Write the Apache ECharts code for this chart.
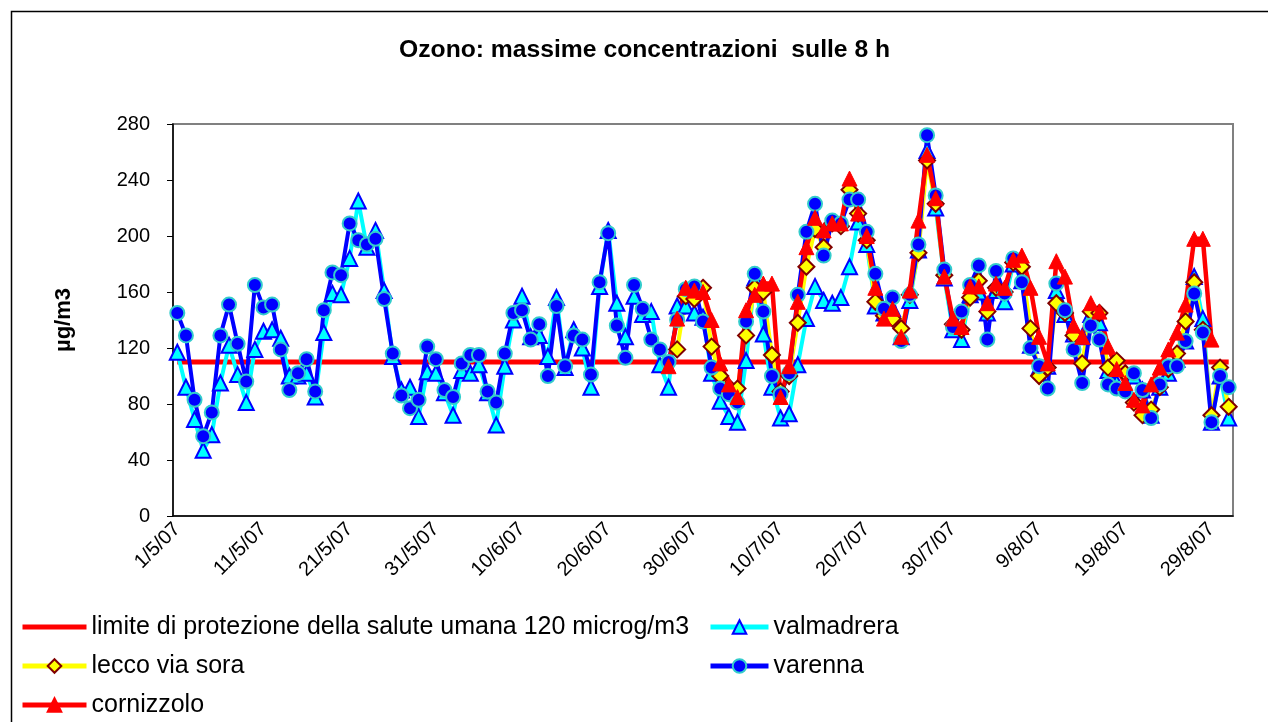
<!DOCTYPE html>
<html>
<head>
<meta charset="utf-8">
<script src="https://cdn.jsdelivr.net/npm/echarts@6/dist/echarts.min.js"></script>
<style>
  html, body { margin: 0; padding: 0; background: #fff; }
  #chart { width: 1268px; height: 722px; }
</style>
</head>
<body>
<div id="chart"></div>
<script>
// days from 1/5/07 to 31/8/07
const months = [[5, 31], [6, 30], [7, 31], [8, 31]];
const dates = [];
months.forEach(function (m) {
  for (let d = 1; d <= m[1]; d++) dates.push(d + '/' + m[0] + '/07');
});

const limitValue = 110;

const valmadrera = [117,92,69,47,58,95,122,101,81,119,
  132,133,127,100,100,102,85,131,159,158,
  184,225,192,204,161,114,90,92,71,103,
  102,88,72,104,102,108,88,65,107,140,
  157,128,129,114,156,106,133,120,92,164,
  204,152,128,157,144,146,108,92,150,150,
  145,142,102,82,71,67,111,170,130,92,
  70,73,108,141,164,154,152,156,178,210,
  194,150,145,148,128,154,190,261,220,170,
  133,126,158,160,145,161,153,180,168,122,
  106,107,161,144,130,128,144,138,104,95,
  92,100,90,72,92,102,112,125,171,141,
  67,100,70];

const varenna = [145,129,83,57,74,129,151,123,96,165,
  149,151,119,90,102,112,89,147,174,172,
  209,197,194,198,155,116,86,77,83,121,
  112,90,85,109,115,115,89,81,116,145,
  147,126,137,100,150,107,129,126,101,167,
  202,136,113,165,148,126,119,110,140,162,
  164,139,106,91,87,81,139,173,146,100,
  87,102,158,203,223,186,211,209,226,226,
  203,173,148,156,125,158,194,272,229,176,
  135,146,165,179,126,175,159,184,167,120,
  107,91,166,147,119,95,136,126,94,91,
  89,102,90,70,94,107,107,125,159,131,
  67,100,92];

// lecco via sora starts on 28/6/07 (day index 58)
const leccoStart = 58;
const leccoValues = [119,157,155,163,121,100,92,91,129,163,
  160,115,89,100,138,178,205,192,209,207,
  233,216,197,153,143,141,134,158,188,254,
  223,172,137,133,156,168,146,163,160,181,
  178,134,100,106,152,145,129,109,146,145,
  106,111,102,81,72,76,92,105,116,139,
  167,133,72,106,78];

// cornizzolo starts on 27/6/07 (day index 57)
const cornizzoloStart = 57;
const cornizzoloValues = [107,141,163,161,160,140,109,94,85,147,
  158,166,166,85,107,153,192,213,204,209,
  209,241,216,200,163,141,148,128,161,211,
  258,227,171,141,135,164,164,152,166,163,
  183,186,163,128,109,182,171,136,128,152,
  146,121,105,95,83,79,94,106,119,131,
  151,198,198,126];

function pad(start, values) {
  const out = new Array(start).fill(null).concat(values);
  while (out.length < dates.length) out.push(null);
  return out;
}

const yTicks = [0, 40, 80, 120, 160, 200, 240, 280];

const font = 'Liberation Sans, Arial, sans-serif';
const limitName = 'limite di protezione della salute umana 120 microg/m3';

// one legend per entry, laid out like the original two-column block
function legendAt(left, top, width, item) {
  return {
    orient: 'horizontal',
    left: left, top: top,
    padding: 0,
    itemWidth: width, itemHeight: 17, itemGap: 0,
    lineStyle: { width: 5 },
    textStyle: { fontSize: 25, color: '#000', lineHeight: 28, fontFamily: font },
    data: [item]
  };
}

const chart = echarts.init(document.getElementById('chart'), null, { renderer: 'canvas' });

chart.setOption({
  animation: false,
  backgroundColor: '#fff',
  textStyle: { fontFamily: font },
  graphic: [{
    type: 'rect',
    left: 9, top: 9,
    shape: { width: 1300, height: 800 },
    style: { fill: 'none', stroke: '#000', lineWidth: 1.5 },
    silent: true
  }],
  title: {
    text: 'Ozono: massime concentrazioni  sulle 8 h',
    left: 394,
    top: 33,
    textStyle: { fontSize: 24.7, fontWeight: 'bold', color: '#000', fontFamily: font }
  },
  legend: [
    legendAt(20, 613, 64, { name: limitName, itemStyle: { color: 'rgba(0,0,0,0)', borderColor: 'rgba(0,0,0,0)' } }),
    legendAt(20, 652, 64, 'lecco via sora'),
    legendAt(20, 691, 64, 'cornizzolo'),
    legendAt(708, 613, 58, 'valmadrera'),
    legendAt(708, 652, 58, 'varenna')
  ],
  grid: {
    left: 173, right: 35, top: 124, bottom: 206,
    show: true, borderColor: '#808080', borderWidth: 2
  },
  xAxis: {
    type: 'category',
    data: dates,
    boundaryGap: true,
    axisLine: { lineStyle: { color: '#000', width: 1.5 } },
    axisTick: { interval: 9, length: 7, lineStyle: { color: '#000' } },
    axisLabel: { interval: 9, rotate: 45, fontSize: 20, color: '#000', margin: 10, fontFamily: font },
    splitLine: { show: false }
  },
  yAxis: {
    type: 'value',
    min: yTicks[0], max: yTicks[yTicks.length - 1], interval: 40,
    name: 'µg/m3',
    nameLocation: 'middle',
    nameGap: 98,
    nameTextStyle: { fontSize: 22, fontWeight: 'bold', color: '#000', fontFamily: font },
    axisLine: { show: true, lineStyle: { color: '#000', width: 1.5 } },
    axisTick: { show: true, length: 6, lineStyle: { color: '#000' } },
    axisLabel: { fontSize: 20, color: '#000', margin: 23, fontFamily: font },
    splitLine: { show: false }
  },
  series: [{
    name: limitName,
    type: 'line',
    data: dates.map(function () { return limitValue; }),
    symbol: 'none',
    lineStyle: { color: '#ff0000', width: 5 },
    itemStyle: { color: '#ff0000' }
  }, {
    name: 'valmadrera',
    type: 'line',
    data: valmadrera,
    symbol: 'triangle',
    symbolSize: 15,
    showAllSymbol: true,
    lineStyle: { color: '#00ffff', width: 4 },
    itemStyle: { color: '#00ffff', borderColor: '#0000ff', borderWidth: 2 }
  }, {
    name: 'lecco via sora',
    type: 'line',
    data: pad(leccoStart, leccoValues),
    symbol: 'diamond',
    symbolSize: 16,
    showAllSymbol: true,
    lineStyle: { color: '#ffff00', width: 4 },
    itemStyle: { color: '#ffff00', borderColor: '#800000', borderWidth: 2 }
  }, {
    name: 'varenna',
    type: 'line',
    data: varenna,
    symbol: 'circle',
    symbolSize: 14,
    showAllSymbol: true,
    lineStyle: { color: '#0000ff', width: 4 },
    itemStyle: { color: '#0000ff', borderColor: '#33cccc', borderWidth: 2 }
  }, {
    name: 'cornizzolo',
    type: 'line',
    data: pad(cornizzoloStart, cornizzoloValues),
    symbol: 'triangle',
    symbolSize: 15,
    showAllSymbol: true,
    lineStyle: { color: '#ff0000', width: 4.5 },
    itemStyle: { color: '#ff0000', borderColor: '#ff0000', borderWidth: 1 }
  }]
});
</script>
</body>
</html>
